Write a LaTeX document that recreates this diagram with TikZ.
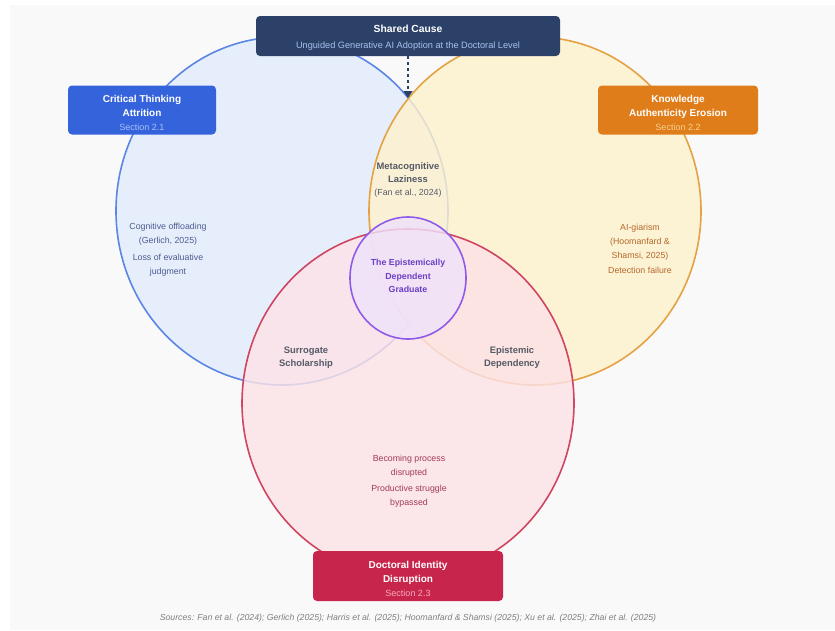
\documentclass[tikz,border=0pt]{standalone}
\usepackage{fontspec}
\setmainfont{Liberation Sans}
\usetikzlibrary{positioning,arrows.meta}
\definecolor{panel}{HTML}{F9F9F9}
\definecolor{navy}{HTML}{2C4168}
\definecolor{navysub}{HTML}{A9C1EF}
\definecolor{bluebox}{HTML}{3563DC}
\definecolor{bluesub}{HTML}{A9C0F5}
\definecolor{orangebox}{HTML}{E07D1B}
\definecolor{orangesub}{HTML}{F8D08F}
\definecolor{redbox}{HTML}{C8254C}
\definecolor{redsub}{HTML}{F5AABB}
\definecolor{bluefill}{HTML}{E4ECFC}
\definecolor{blueline}{HTML}{5B86E5}
\definecolor{orangefill}{HTML}{FDF1CD}
\definecolor{orangeline}{HTML}{E4A244}
\definecolor{redfill}{HTML}{FCE2E7}
\definecolor{redline}{HTML}{CF4562}
\definecolor{purplefill}{HTML}{EFE2FB}
\definecolor{purpleline}{HTML}{8F5CE8}
\definecolor{bluetext}{HTML}{4B5D91}
\definecolor{orangetext}{HTML}{B5692A}
\definecolor{redtext}{HTML}{A23A5A}
\definecolor{graytext}{HTML}{555A66}
\definecolor{purpletext}{HTML}{6B3FC6}
\tikzset{
venn/.style={line width=1.6pt, fill opacity=0.82},
tag/.style={rounded corners=4pt, inner sep=0pt},
tagtext/.style={text=white, align=center, inner sep=0pt, font=\fontsize{10}{14}\selectfont\bfseries},
note/.style={align=center, inner sep=0pt, font=\fontsize{8.8}{14}\selectfont},
zone/.style={align=center, inner sep=0pt, text=graytext, font=\fontsize{9.4}{13}\selectfont\bfseries},
cause/.style={draw=navy, line width=1.3pt, dashed, -{Triangle[length=7pt,width=9pt]}}
}
\newcommand{\sect}[2]{\\\mdseries\color{#1}\fontsize{9}{13.5}\selectfont #2}

\begin{document}
\begin{tikzpicture}[x=1pt,y=-1pt]
\useasboundingbox (0,0) rectangle (835,630);
\fill[white] (0,0) rectangle (835,630);
\fill[panel] (10,5) rectangle (835,630);

\draw[venn, fill=bluefill, draw=blueline] (282,211) ellipse [x radius=166pt, y radius=174pt];
\draw[venn, fill=orangefill, draw=orangeline] (535,211) ellipse [x radius=166pt, y radius=174pt];
\draw[venn, fill=redfill, draw=redline] (408,403) ellipse [x radius=166pt, y radius=174pt];
\draw[venn, fill=purplefill, draw=purpleline] (408,278) ellipse [x radius=58pt, y radius=61pt];

\node[tag, fill=navy, minimum width=304pt, minimum height=40pt] (shared) at (408,36) {};
\node[tagtext, font=\fontsize{10.3}{16}\selectfont\bfseries] (sharedtxt) at ([yshift=-1.5pt]shared.center)
  {Shared Cause\\\mdseries\color{navysub}\fontsize{9.2}{16}\selectfont Unguided Generative AI Adoption at the Doctoral Level};
\node[tag, fill=bluebox, minimum width=148pt, minimum height=49pt] (critical) at (142,110) {};
\node[tagtext] (criticaltxt) at ([yshift=-3pt]critical.center)
  {Critical Thinking\\Attrition\sect{bluesub}{Section 2.1}};
\node[tag, fill=orangebox, minimum width=160pt, minimum height=49pt] (knowledge) at (678,110) {};
\node[tagtext] (knowledgetxt) at ([yshift=-3pt]knowledge.center)
  {Knowledge\\Authenticity Erosion\sect{orangesub}{Section 2.2}};
\node[tag, fill=redbox, minimum width=190pt, minimum height=50pt] (doctoral) at (408,576) {};
\node[tagtext] (doctoraltxt) at ([yshift=-3pt]doctoral.center)
  {Doctoral Identity\\Disruption\sect{redsub}{Section 2.3}};

\coordinate (apex) at (408,98);
\draw[cause] (shared.south) -- (apex);

\node[zone] (meta) at (408,173) {Metacognitive\\Laziness};
\node[note, text=graytext, below=6pt of meta] (fan) {(Fan et al., 2024)};
\node[zone, text=purpletext, font=\fontsize{8.8}{13.5}\selectfont\bfseries] (graduate) at (408,276)
  {The Epistemically\\Dependent\\Graduate};
\node[zone] (surrogate) at (306,358) {Surrogate\\Scholarship};
\node[zone] (dependency) at (512,358) {Epistemic\\Dependency};

\node[note, text=bluetext] (offload) at (168,234) {Cognitive offloading\\(Gerlich, 2025)};
\node[note, text=bluetext, below=9pt of offload] (judgment) {Loss of evaluative\\judgment};
\node[note, text=orangetext] (aigiarism) at (640,242) {AI-giarism\\(Hoomanfard \&\\Shamsi, 2025)};
\node[note, text=orangetext, below=7pt of aigiarism] (detection) {Detection failure};
\node[note, text=redtext] (becoming) at (409,466) {Becoming process\\disrupted};
\node[note, text=redtext, below=8pt of becoming] (struggle) {Productive struggle\\bypassed};

\node[note, text=gray, font=\fontsize{8.7}{10}\selectfont\itshape] (sources) at (408,618)
  {Sources: Fan et al. (2024); Gerlich (2025); Harris et al. (2025); Hoomanfard \& Shamsi (2025); Xu et al. (2025); Zhai et al. (2025)};
\end{tikzpicture}
\end{document}
